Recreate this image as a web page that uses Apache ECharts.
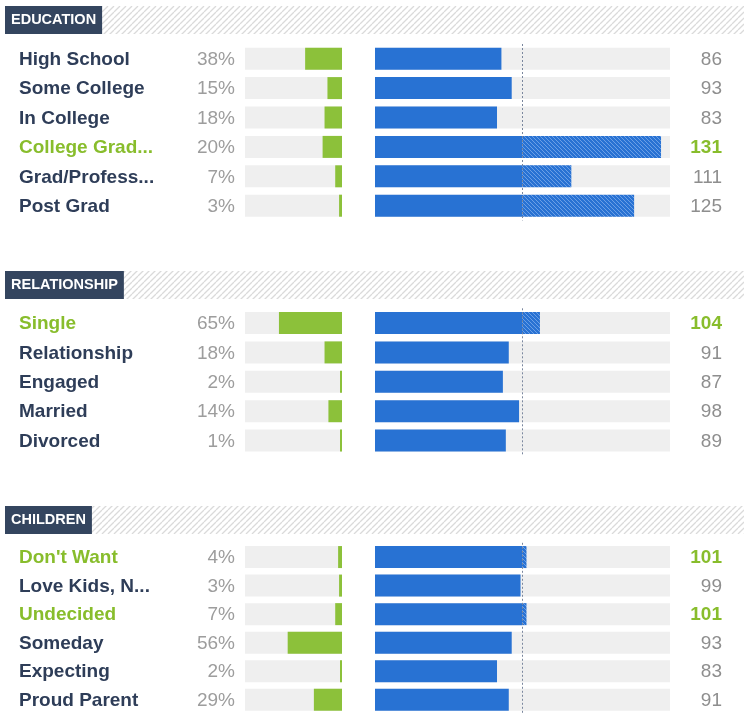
<!DOCTYPE html>
<html><head><meta charset="utf-8">
<script src="https://cdn.jsdelivr.net/npm/echarts@6/dist/echarts.min.js"></script>
<style>html,body{margin:0;padding:0;background:#fff}#c{width:744px;height:714px}</style>
</head><body><div id="c"></div>
<script>
// ---- data ----
const sectionTitles = ['EDUCATION', 'RELATIONSHIP', 'CHILDREN'];

const educationCategories = ['High School', 'Some College', 'In College', 'College Grad...', 'Grad/Profess...', 'Post Grad'];
const educationShare = [38, 15, 18, 20, 7, 3];
const educationIndex = [86, 93, 83, 131, 111, 125];

const relationshipCategories = ['Single', 'Relationship', 'Engaged', 'Married', 'Divorced'];
const relationshipShare = [65, 18, 2, 14, 1];
const relationshipIndex = [104, 91, 87, 98, 89];

const childrenCategories = ["Don't Want", 'Love Kids, N...', 'Undecided', 'Someday', 'Expecting', 'Proud Parent'];
const childrenShare = [4, 3, 7, 56, 2, 29];
const childrenIndex = [101, 99, 101, 93, 83, 91];

const sections = [
  { title: sectionTitles[0], cats: educationCategories, share: educationShare, index: educationIndex },
  { title: sectionTitles[1], cats: relationshipCategories, share: relationshipShare, index: relationshipIndex },
  { title: sectionTitles[2], cats: childrenCategories, share: childrenShare, index: childrenIndex }
];

// ---- layout / style ----
const sectionTop = [44, 308.3, 542.8];
const headerTop = [6, 271, 506];
const ROW = 29.4;
const BAR = 22;
const NAVY = '#2e3d58', GREEN = '#8cc13a', GREEN_TXT = '#88bd2c', BLUE = '#2872d3', BG = '#efefef';
const FONT = '"Liberation Sans", Arial, Helvetica, sans-serif';

function hatch(bg, fg, size, dir, lw) {
  const c = document.createElement('canvas');
  c.width = c.height = size;
  const g = c.getContext('2d');
  if (bg) { g.fillStyle = bg; g.fillRect(0, 0, size, size); }
  g.strokeStyle = fg; g.lineWidth = lw;
  g.beginPath();
  for (let k = -size; k <= size; k += size) {
    if (dir === '\\') { g.moveTo(k, 0); g.lineTo(k + size, size); }
    else { g.moveTo(k, size); g.lineTo(k + size, 0); }
  }
  g.stroke();
  return c;
}
const blueHatch = hatch(BLUE, '#6b9fe6', 4, '\\', 1);
const headHatch = hatch(null, '#dadada', 6, '/', 1.3);

const grids = [], xAxis = [], yAxis = [], series = [], graphic = [];

sections.forEach((sec, s) => {
  const n = sec.cats.length;
  const top = sectionTop[s], h = n * ROW;
  const maxVal = Math.max.apply(null, sec.index);
  const hi = sec.index.map(v => v === maxVal);
  const g0 = grids.length;
  grids.push({ left: 245, width: 97, top: top, height: h });
  grids.push({ left: 375, width: 147, top: top, height: h });
  grids.push({ left: 522, width: 148, top: top, height: h });

  const x0 = xAxis.length;
  xAxis.push({ type: 'value', gridIndex: g0, min: 0, max: 100, inverse: true, show: false });
  xAxis.push({ type: 'value', gridIndex: g0 + 1, min: 0, max: 100, show: false });
  xAxis.push({ type: 'value', gridIndex: g0 + 2, min: 100, max: 133, show: false });

  const y0 = yAxis.length;
  const hidden = { axisLine: { show: false }, axisTick: { show: false }, splitLine: { show: false } };
  yAxis.push(Object.assign({
    type: 'category', gridIndex: g0, inverse: true, position: 'left', offset: 0,
    data: sec.cats,
    axisLabel: {
      margin: 226, align: 'left', padding: [2, 0, 0, 0],
      formatter: (v, i) => (hi[i] ? '{g|' : '{n|') + v + '}',
      rich: {
        n: { fontFamily: FONT, fontSize: 19, fontWeight: 'bold', color: NAVY },
        g: { fontFamily: FONT, fontSize: 19, fontWeight: 'bold', color: GREEN_TXT }
      }
    }
  }, hidden));
  yAxis.push(Object.assign({
    type: 'category', gridIndex: g0, inverse: true, position: 'left', offset: 0,
    data: sec.share.map(v => v + '%'),
    axisLabel: {
      margin: 10, align: 'right', padding: [2, 0, 0, 0],
      formatter: v => '{p|' + v + '}',
      rich: { p: { fontFamily: FONT, fontSize: 19, color: '#9d9d9d' } }
    }
  }, hidden));
  yAxis.push(Object.assign({
    type: 'category', gridIndex: g0 + 1, inverse: true, data: sec.cats, axisLabel: { show: false }
  }, hidden));
  yAxis.push(Object.assign({
    type: 'category', gridIndex: g0 + 2, inverse: true, position: 'right', offset: 0,
    data: sec.index.map(String),
    axisLabel: {
      margin: 52, align: 'right', padding: [2, 0, 0, 0],
      formatter: (v, i) => (hi[i] ? '{g|' : '{n|') + v + '}',
      rich: {
        n: { fontFamily: FONT, fontSize: 19, color: '#8e8e8e' },
        g: { fontFamily: FONT, fontSize: 19, fontWeight: 'bold', color: GREEN_TXT }
      }
    }
  }, hidden));

  series.push({
    type: 'bar', xAxisIndex: x0, yAxisIndex: y0, data: sec.share, barWidth: BAR, barMinHeight: 2,
    itemStyle: { color: GREEN }, showBackground: true, backgroundStyle: { color: BG },
    silent: true, animation: false
  });
  series.push({
    type: 'bar', xAxisIndex: x0 + 1, yAxisIndex: y0 + 2, data: sec.index, barWidth: BAR, clip: true,
    itemStyle: { color: BLUE }, showBackground: true, backgroundStyle: { color: BG },
    silent: true, animation: false
  });
  series.push({
    type: 'bar', xAxisIndex: x0 + 2, yAxisIndex: y0 + 3, data: sec.index, barWidth: BAR, clip: true,
    itemStyle: { color: { image: blueHatch, repeat: 'repeat' } },
    showBackground: true, backgroundStyle: { color: BG },
    silent: true, animation: false, z: 3,
    markLine: {
      silent: true, symbol: ['none', 'none'], label: { show: false }, animation: false,
      lineStyle: { color: '#7a879e', type: [2, 2], width: 1 },
      data: [{ xAxis: 100 }]
    }
  });

  graphic.push({
    type: 'rect', shape: { x: 5, y: headerTop[s], width: 739, height: 28 },
    style: { fill: { image: headHatch, repeat: 'repeat' } }, silent: true
  });
  graphic.push({
    type: 'text', x: 5, y: headerTop[s],
    style: {
      text: sec.title, fill: '#fff', font: 'bold 14.5px ' + FONT,
      backgroundColor: '#34455f', padding: [7, 6, 7, 6], lineHeight: 14, verticalAlign: 'top'
    }, silent: true
  });
});

const chart = echarts.init(document.getElementById('c'), null, { renderer: 'canvas' });
chart.setOption({
  backgroundColor: '#fff',
  animation: false,
  grid: grids, xAxis: xAxis, yAxis: yAxis, series: series, graphic: graphic
});
</script></body></html>
